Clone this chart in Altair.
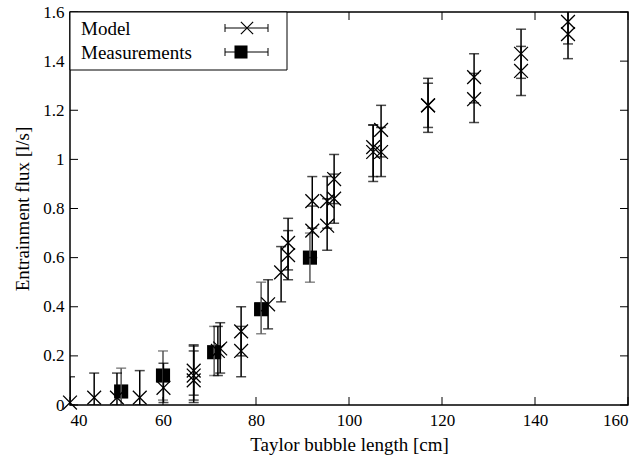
import altair as alt
import pandas as pd

# ---- data ----
model_x = [40.0, 45.2, 50.1, 55.0, 60.1, 66.6, 66.6, 66.6, 71.8, 72.3, 76.8, 76.8,
           82.6, 85.4, 86.9, 86.9, 92.1, 92.1, 95.3, 95.3, 96.8, 96.8,
           105.2, 105.2, 106.9, 106.9, 117.0, 117.0, 126.9, 126.9, 137.0, 137.0, 147.1, 147.1]
model_y = [0.01, 0.03, 0.03, 0.03, 0.07, 0.10, 0.12, 0.14, 0.22, 0.23, 0.30, 0.22,
           0.41, 0.54, 0.61, 0.66, 0.71, 0.83, 0.73, 0.83, 0.84, 0.92,
           1.03, 1.05, 1.03, 1.12, 1.22, 1.22, 1.245, 1.335, 1.36, 1.43, 1.51, 1.56]
model_lo = [0.0, 0.0, 0.0, 0.0, 0.01, 0.01, 0.02, 0.04, 0.12, 0.13, 0.20, 0.115,
            0.31, 0.42, 0.51, 0.55, 0.60, 0.72, 0.63, 0.72, 0.74, 0.82,
            0.91, 0.93, 0.93, 1.01, 1.11, 1.13, 1.15, 1.23, 1.26, 1.33, 1.41, 1.47]
model_hi = [0.115, 0.13, 0.13, 0.14, 0.17, 0.22, 0.245, 0.24, 0.32, 0.335, 0.40, 0.32,
            0.51, 0.645, 0.71, 0.76, 0.81, 0.93, 0.84, 0.93, 0.94, 1.02,
            1.14, 1.14, 1.13, 1.22, 1.33, 1.31, 1.35, 1.43, 1.46, 1.53, 1.61, 1.66]

meas_x = [51.0, 60.0, 71.0, 81.1, 91.6]
meas_y = [0.055, 0.12, 0.215, 0.39, 0.60]
meas_lo = [0.0, 0.02, 0.12, 0.29, 0.50]
meas_hi = [0.15, 0.22, 0.32, 0.50, 0.70]

x_ticks = [40, 60, 80, 100, 120, 140, 160]
y_ticks = [0, 0.2, 0.4, 0.6, 0.8, 1.0, 1.2, 1.4, 1.6]
legend_labels = ["Model", "Measurements"]
x_title = "Taylor bubble length [cm]"
y_title = "Entrainment flux [l/s]"

# ---- build ----
W, H = 558, 393
FONT = "'Liberation Serif', 'Times New Roman', Times, serif"
CROSS = "M-1,-1L1,1M1,-1L-1,1"

model = pd.DataFrame(dict(x=model_x, y=model_y, lo=model_lo, hi=model_hi))
meas = pd.DataFrame(dict(x=meas_x, y=meas_y, lo=meas_lo, hi=meas_hi))

xs = alt.Scale(domain=[40, 160], nice=False, zero=False)
ys = alt.Scale(domain=[0, 1.6], nice=False, zero=False)

X = alt.X("x:Q", scale=xs, axis=alt.Axis(values=x_ticks, title=x_title, tickSize=0,
                                         labelPadding=7, titlePadding=7, domain=False,
                                         grid=False))
Y = alt.Y("y:Q", scale=ys, axis=alt.Axis(values=y_ticks, title=y_title, tickSize=0,
                                         labelPadding=6, titlePadding=10, domain=False,
                                         grid=False, format="~g"))
Xn = alt.X("x:Q", scale=xs)


def errbars(df, color, width):
    base = alt.Chart(df)
    rule = base.mark_rule(color=color, strokeWidth=width, clip=True).encode(
        x=Xn, y=alt.Y("lo:Q", scale=ys), y2="hi:Q")
    cap_lo = base.mark_tick(orient="horizontal", color=color, size=10, thickness=width,
                            clip=True).encode(x=Xn, y=alt.Y("lo:Q", scale=ys))
    cap_hi = base.mark_tick(orient="horizontal", color=color, size=10, thickness=width,
                            clip=True).encode(x=Xn, y=alt.Y("hi:Q", scale=ys))
    return rule + cap_lo + cap_hi


meas_err = errbars(meas, "#555555", 1.5)
model_err = errbars(model, "black", 1.5)

meas_pts = alt.Chart(meas).mark_square(color="black", size=200, opacity=1).encode(x=X, y=Y)
model_pts = alt.Chart(model).mark_point(shape=CROSS, filled=False, color="black", size=190,
                                        strokeWidth=1.3, opacity=1).encode(
    x=Xn, y=alt.Y("y:Q", scale=ys))

# inward ticks on all four sides
xt = pd.DataFrame({"x": x_ticks})
yt = pd.DataFrame({"y": y_ticks})
tick_b = alt.Chart(xt).mark_rule(color="black", strokeWidth=1).encode(
    x=Xn, y=alt.value(H), y2=alt.value(H - 8))
tick_t = alt.Chart(xt).mark_rule(color="black", strokeWidth=1).encode(
    x=Xn, y=alt.value(0), y2=alt.value(8))
tick_l = alt.Chart(yt).mark_rule(color="black", strokeWidth=1).encode(
    y=alt.Y("y:Q", scale=ys), x=alt.value(0), x2=alt.value(8))
tick_r = alt.Chart(yt).mark_rule(color="black", strokeWidth=1).encode(
    y=alt.Y("y:Q", scale=ys), x=alt.value(W), x2=alt.value(W - 8))

# legend
one = pd.DataFrame({"a": [0]})
leg_box = alt.Chart(one).mark_rect(fill="white", stroke="black", strokeWidth=1).encode(
    x=alt.value(0), x2=alt.value(217), y=alt.value(0), y2=alt.value(58))

legend_layers = [leg_box]
row_y = [16, 40]
for i, lab in enumerate(legend_labels):
    d = pd.DataFrame({"label": [lab]})
    yy = row_y[i]
    legend_layers.append(alt.Chart(d).mark_text(
        align="left", baseline="middle", font=FONT, fontSize=19, color="black").encode(
        text="label:N", x=alt.value(11), y=alt.value(yy + 1)))
    legend_layers.append(alt.Chart(d).mark_rule(color="black", strokeWidth=1).encode(
        x=alt.value(155), x2=alt.value(198), y=alt.value(yy)))
    legend_layers.append(alt.Chart(d).mark_rule(color="black", strokeWidth=1).encode(
        x=alt.value(155), y=alt.value(yy - 4), y2=alt.value(yy + 4)))
    legend_layers.append(alt.Chart(d).mark_rule(color="black", strokeWidth=1).encode(
        x=alt.value(198), y=alt.value(yy - 4), y2=alt.value(yy + 4)))
    if i == 0:
        legend_layers.append(alt.Chart(d).mark_point(
            shape=CROSS, filled=False, color="black", size=150, strokeWidth=1.2,
            opacity=1).encode(x=alt.value(177), y=alt.value(yy)))
    else:
        legend_layers.append(alt.Chart(d).mark_square(
            color="black", size=170, opacity=1).encode(x=alt.value(171), y=alt.value(yy)))

chart = alt.layer(
    meas_pts, meas_err, model_err, model_pts,
    tick_b, tick_t, tick_l, tick_r,
    *legend_layers,
).properties(
    width=W, height=H,
    autosize=alt.AutoSizeParams(type="none"),
    padding={"left": 70, "top": 12, "right": 8, "bottom": 53},
    background="white",
).configure_view(
    stroke="black", strokeWidth=1.5,
).configure_axis(
    labelFont=FONT, labelFontSize=17, labelColor="black",
    titleFont=FONT, titleFontSize=19, titleColor="black", titleFontWeight="normal",
)

chart.save("out.html", embed_options={"renderer": "svg", "actions": False})
